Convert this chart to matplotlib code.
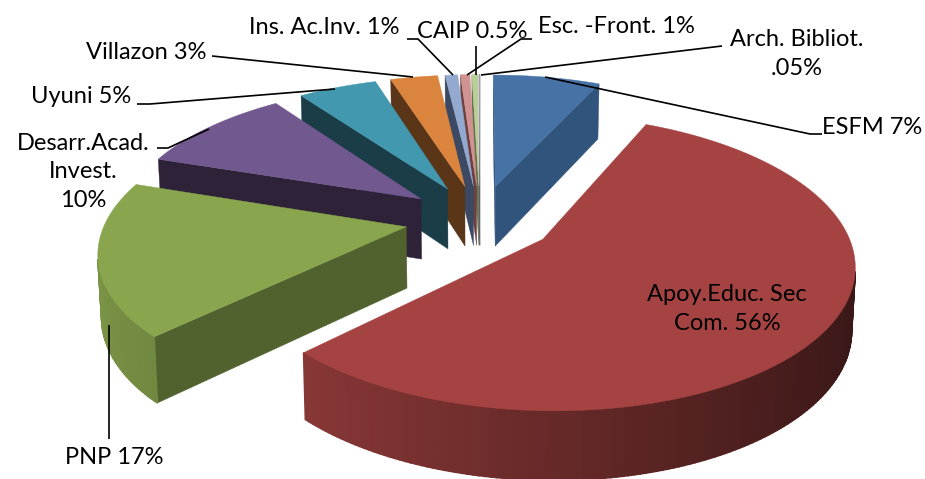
import numpy as np
import matplotlib
matplotlib.use('Agg')
import matplotlib.pyplot as plt
from matplotlib.colors import to_rgb

plt.rcParams['font.family'] = ['Lato', 'DejaVu Sans']

names = ['ESFM', 'Apoy.Educ. Sec Com.', 'PNP', 'Desarr.Acad. Invest.', 'Uyuni',
         'Villazon', 'Ins. Ac.Inv.', 'Esc. -Front.', 'CAIP', 'Arch. Bibliot.']
values = [6.8, 55.8, 17.4, 10, 5, 3, 0.8, 0.6, 0.4, 0.05]

top_colors = ['#4672A6', '#A54342', '#89A54E', '#71588F', '#4198AF',
              '#DB843D', '#93A9CF', '#D19392', '#B9CD96', '#A99BBD']
wall_colors = ['#31547C', '#6E2C2C', '#51622F', '#2D2237', '#1B3D47',
               '#5A3518', '#3B4963', '#6E4040', '#66734F', '#5A5266']

# back to front
draw_order = [9, 8, 7, 6, 5, 4, 3, 0, 2, 1]

# projection of the tilted pie, in pixels
X0, Y0 = 480, 219
SX, SY = 300, 138
PERSP = 0.155
EXPLODE = 0.25


def project(u, v):
    w = 1 + PERSP * v
    return X0 + SX * u / w, Y0 - SY * v / w


def drop(x, y):
    # bottom rim of the slice under a top point
    v = (Y0 - y) / SY
    return X0 + (x - X0) * 0.99, y + 61 - 6 * v


def facing(p):
    x, y = p[:, 0], p[:, 1]
    return np.sum(x * np.roll(y, -1) - np.roll(x, -1) * y) < 0


fig = plt.figure(figsize=(9.25, 4.79), dpi=100)
ax = fig.add_axes([0, 0, 1, 1])
ax.set_xlim(0, 925)
ax.set_ylim(479, 0)
ax.axis('off')

fracs = np.array(values) / np.sum(values) * 2 * np.pi
ends = np.cumsum(fracs)
starts = ends - fracs

for i in draw_order:
    mid = (starts[i] + ends[i]) / 2
    cu, cv = EXPLODE * np.sin(mid), EXPLODE * np.cos(mid)
    ang = np.linspace(starts[i], ends[i], max(3, int(fracs[i] * 60)))
    ax_, ay_ = project(cu, cv)
    ox, oy = project(cu + np.sin(ang), cv + np.cos(ang))
    tx = np.r_[ax_, ox]
    ty = np.r_[ay_, oy]
    bx, by = drop(tx, ty)
    n = len(tx)
    # flat walls
    for a, b in [(0, 1), (n - 1, 0)]:
        q = np.array([[tx[a], ty[a]], [tx[b], ty[b]], [bx[b], by[b]], [bx[a], by[a]]])
        if facing(q):
            ax.fill(q[:, 0], q[:, 1], color=wall_colors[i], lw=0.3, zorder=1)
    # rim, shaded from left to right
    base = np.array(to_rgb(top_colors[i]))
    for k in range(1, n - 1):
        q = np.array([[tx[k], ty[k]], [tx[k + 1], ty[k + 1]], [bx[k + 1], by[k + 1]], [bx[k], by[k]]])
        if facing(q):
            f = 0.62 - 0.28 * np.sin((ang[k - 1] + ang[k]) / 2)
            ax.fill(q[:, 0], q[:, 1], facecolor=base * f, edgecolor=base * f, lw=1.2, zorder=1)
    ax.fill(tx, ty, color=top_colors[i], lw=0.3, zorder=1)

leaders = [
    ([212, 413], [56, 77]),
    ([407, 418, 453], [39, 39, 75]),
    ([476, 476], [46, 75]),
    ([532, 521, 467], [39, 39, 75]),
    ([481, 722], [75, 46]),
    ([545, 810, 822], [77, 134, 134]),
    ([137, 150, 335], [104, 104, 89]),
    ([157, 168, 209], [148, 148, 129]),
    ([109, 109], [325, 439]),
]
for lx, ly in leaders:
    ax.plot(lx, ly, color='black', lw=1.2, zorder=2, solid_capstyle='butt')

FS = 17
LS = 1.47
ax.text(146, 52, 'Villazon 3%', ha='center', va='center', fontsize=FS)
ax.text(324, 27, 'Ins. Ac.Inv. 1%', ha='center', va='center', fontsize=FS)
ax.text(472, 31, 'CAIP 0.5%', ha='center', va='center', fontsize=FS)
ax.text(616, 26, 'Esc. -Front. 1%', ha='center', va='center', fontsize=FS)
ax.text(797, 54, 'Arch. Bibliot.\n.05%', ha='center', va='center', fontsize=FS, linespacing=LS)
ax.text(872, 127, 'ESFM 7%', ha='center', va='center', fontsize=FS)
ax.text(727, 309, 'Apoy.Educ. Sec\nCom. 56%', ha='center', va='center', fontsize=FS, linespacing=LS)
ax.text(114, 458, 'PNP 17%', ha='center', va='center', fontsize=FS)
ax.text(83, 172, 'Desarr.Acad.\nInvest.\n10%', ha='center', va='center', fontsize=FS, linespacing=LS)
ax.text(81, 96, 'Uyuni 5%', ha='center', va='center', fontsize=FS)

fig.savefig('out.png', dpi=100)
